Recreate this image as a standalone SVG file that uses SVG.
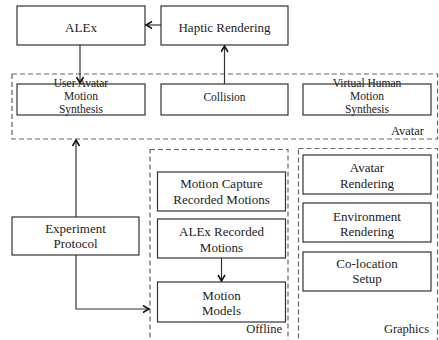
<svg xmlns="http://www.w3.org/2000/svg" width="439" height="340" viewBox="0 0 439 340">
<defs>
<marker id="arr" markerWidth="10" markerHeight="10" refX="7" refY="4" orient="auto" markerUnits="userSpaceOnUse">
<path d="M1,0.5 L7,4 L1,7.5" fill="none" stroke="#111" stroke-width="1.5"/>
</marker>
</defs>
<style>
text{font-family:'Liberation Serif','Times New Roman',Tinos,'Noto Serif','DejaVu Serif',FreeSerif,serif;fill:#222}
.box{fill:#fff;stroke:#333;stroke-width:1.2}
.grp{fill:none;stroke:#666;stroke-width:1.2;stroke-dasharray:5,3}
.t{font-size:13px;text-anchor:middle}
.s{font-size:11.5px;text-anchor:middle}
.l{font-size:12.5px;text-anchor:end}
.c{fill:none;stroke:#333;stroke-width:1.2}
</style>
<rect width="439" height="340" fill="#fff"/>
<g id="group-avatar">
<rect class="grp" x="12" y="74" width="425.5" height="65"/>
<text class="l" x="424" y="135">Avatar</text>
</g>
<g id="group-offline">
<rect class="grp" x="150" y="149.5" width="138" height="200"/>
<text class="l" x="282" y="333">Offline</text>
</g>
<g id="group-graphics">
<rect class="grp" x="298.5" y="148.5" width="139" height="200"/>
<text class="l" x="429" y="333">Graphics</text>
</g>
<g id="alex">
<rect class="box" x="17" y="6" width="128" height="39"/>
<text class="t" x="81" y="32">ALEx</text>
</g>
<g id="haptic">
<rect class="box" x="161" y="6" width="127" height="39"/>
<text class="t" x="224.5" y="32">Haptic Rendering</text>
</g>
<g id="user-avatar">
<rect class="box" x="17" y="84" width="128" height="31"/>
<text class="s" x="81" y="87">User Avatar</text>
<text class="s" x="81" y="100">Motion</text>
<text class="s" x="81" y="113">Synthesis</text>
</g>
<g id="collision">
<rect class="box" x="161" y="84" width="127" height="31"/>
<text class="s" x="224.5" y="101">Collision</text>
</g>
<g id="virtual-human">
<rect class="box" x="303" y="84" width="128" height="31"/>
<text class="s" x="367" y="87">Virtual Human</text>
<text class="s" x="367" y="100">Motion</text>
<text class="s" x="367" y="113">Synthesis</text>
</g>
<g id="experiment">
<rect class="box" x="12" y="217" width="127" height="38"/>
<text class="t" x="75.5" y="233">Experiment</text>
<text class="t" x="75.5" y="248">Protocol</text>
</g>
<g id="mocap">
<rect class="box" x="157.5" y="172" width="128" height="39"/>
<text class="t" x="221.5" y="188">Motion Capture</text>
<text class="t" x="221.5" y="204">Recorded Motions</text>
</g>
<g id="alex-recorded">
<rect class="box" x="157.5" y="219" width="128" height="39"/>
<text class="t" x="221.5" y="236">ALEx Recorded</text>
<text class="t" x="221.5" y="252">Motions</text>
</g>
<g id="motion-models">
<rect class="box" x="157.5" y="282" width="128" height="40"/>
<text class="t" x="221.5" y="300">Motion</text>
<text class="t" x="221.5" y="315">Models</text>
</g>
<g id="avatar-rendering">
<rect class="box" x="303" y="155" width="128" height="39"/>
<text class="t" x="367" y="172">Avatar</text>
<text class="t" x="367" y="188">Rendering</text>
</g>
<g id="env-rendering">
<rect class="box" x="303" y="203" width="128" height="39"/>
<text class="t" x="367" y="221">Environment</text>
<text class="t" x="367" y="236">Rendering</text>
</g>
<g id="colocation">
<rect class="box" x="303" y="252" width="128" height="39"/>
<text class="t" x="367" y="268">Co-location</text>
<text class="t" x="367" y="283">Setup</text>
</g>
<g id="connectors">
<line class="c" x1="161" y1="25" x2="146" y2="25" marker-end="url(#arr)"/>
<line class="c" x1="80" y1="45" x2="80" y2="83" marker-end="url(#arr)"/>
<line class="c" x1="224.5" y1="84" x2="224.5" y2="46" marker-end="url(#arr)"/>
<line class="c" x1="76" y1="217" x2="76" y2="140" marker-end="url(#arr)"/>
<polyline class="c" points="76,255 76,309 149,309" marker-end="url(#arr)"/>
<line class="c" x1="221.5" y1="258" x2="221.5" y2="281" marker-end="url(#arr)"/>
</g>
</svg>
